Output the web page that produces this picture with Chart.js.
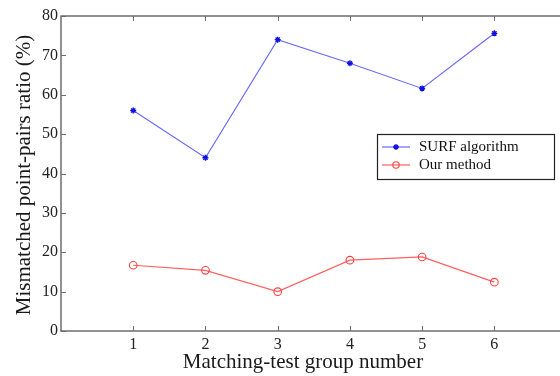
<!DOCTYPE html>
<html>
<head>
<meta charset="utf-8">
<script src="https://cdn.jsdelivr.net/npm/chart.js@4/dist/chart.umd.min.js"></script>
<style>
html,body{margin:0;padding:0;background:#fff;overflow:hidden;width:560px;height:376px;}
#wrap{position:absolute;left:0;top:0;width:572px;height:376px;}
</style>
</head>
<body>
<div id="wrap"><canvas id="c" width="572" height="376"></canvas></div>
<script>
const groups = [1, 2, 3, 4, 5, 6];
const surfValues = [56, 44, 74, 68, 61.6, 75.6];
const ourValues = [16.7, 15.4, 10, 18, 18.8, 12.4];
const yTicks = [0, 10, 20, 30, 40, 50, 60, 70, 80];
const xTitle = 'Matching-test group number';
const yTitle = 'Mismatched point-pairs ratio (%)';
const seriesNames = ['SURF algorithm', 'Our method'];

const AXIS = '#6e6e6e';
const SERIF = '"Liberation Serif", "Times New Roman", serif';

const framePlugin = {
  id: 'frame',
  afterDraw(chart) {
    const ctx = chart.ctx;
    const a = chart.chartArea;
    const xs = chart.scales.x, ys = chart.scales.y;
    ctx.save();
    ctx.strokeStyle = AXIS;
    ctx.lineWidth = 1.5;
    ctx.strokeRect(a.left, a.top, a.right - a.left, a.bottom - a.top);
    ctx.lineWidth = 1;
    ctx.beginPath();
    groups.forEach(g => {
      const px = Math.round(xs.getPixelForValue(g)) + 0.5;
      ctx.moveTo(px, a.bottom); ctx.lineTo(px, a.bottom - 5);
      ctx.moveTo(px, a.top); ctx.lineTo(px, a.top + 5);
    });
    yTicks.forEach(v => {
      const py = Math.round(ys.getPixelForValue(v)) + 0.5;
      ctx.moveTo(a.left, py); ctx.lineTo(a.left + 5, py);
      ctx.moveTo(a.right, py); ctx.lineTo(a.right - 5, py);
    });
    ctx.stroke();

    // axis titles
    ctx.fillStyle = '#1a1a1a';
    ctx.font = '21px ' + SERIF;
    ctx.textAlign = 'center';
    ctx.textBaseline = 'middle';
    ctx.fillText(xTitle, 303, 362);
    ctx.save();
    ctx.translate(24, 175);
    ctx.rotate(-Math.PI / 2);
    ctx.fillText(yTitle, 0, 0);
    ctx.restore();

    // legend
    const lx = 377, ly = 134, lw = 177, lh = 45;
    ctx.fillStyle = '#fff';
    ctx.fillRect(lx, ly, lw, lh);
    ctx.strokeStyle = '#222';
    ctx.lineWidth = 1.2;
    ctx.strokeRect(lx + 0.5, ly + 0.5, lw, lh);
    const rows = [ly + 13, ly + 31];
    chart.data.datasets.forEach((ds, i) => {
      const y = rows[i];
      ctx.strokeStyle = ds.borderColor;
      ctx.lineWidth = 1.2;
      ctx.beginPath();
      ctx.moveTo(lx + 5, y); ctx.lineTo(lx + 33, y);
      ctx.stroke();
      ctx.strokeStyle = ds.pointBorderColor;
      ctx.beginPath();
      if (ds.pointStyle === 'circle') {
        ctx.lineWidth = 1.1;
        ctx.arc(lx + 19, y, 3.2, 0, Math.PI * 2);
        ctx.stroke();
      } else {
        ctx.lineWidth = 1.3;
        ctx.moveTo(lx + 19 - 3, y); ctx.lineTo(lx + 19 + 3, y);
        ctx.moveTo(lx + 19, y - 3); ctx.lineTo(lx + 19, y + 3);
        ctx.moveTo(lx + 17, y - 2); ctx.lineTo(lx + 21, y + 2);
        ctx.moveTo(lx + 21, y - 2); ctx.lineTo(lx + 17, y + 2);
        ctx.stroke();
      }
      ctx.fillStyle = '#111';
      ctx.font = '15px ' + SERIF;
      ctx.textAlign = 'left';
      ctx.textBaseline = 'middle';
      ctx.fillText(ds.label, lx + 42, y);
    });
    ctx.restore();
  }
};

new Chart(document.getElementById('c'), {
  type: 'line',
  data: {
    datasets: [
      {
        label: seriesNames[0],
        data: groups.map((g, i) => ({x: g, y: surfValues[i]})),
        borderColor: '#6a6aff',
        borderWidth: 1.2,
        pointStyle: 'star',
        pointRadius: 3,
        pointBorderColor: '#1010e0',
        pointBackgroundColor: '#1010e0',
        pointBorderWidth: 1.4,
        tension: 0,
        fill: false
      },
      {
        label: seriesNames[1],
        data: groups.map((g, i) => ({x: g, y: ourValues[i]})),
        borderColor: '#ff6060',
        borderWidth: 1.2,
        pointStyle: 'circle',
        pointRadius: 3.8,
        pointBorderColor: '#ff4040',
        pointBackgroundColor: 'rgba(255,255,255,0)',
        pointBorderWidth: 1.1,
        tension: 0,
        fill: false
      }
    ]
  },
  options: {
    responsive: false,
    animation: false,
    devicePixelRatio: 1,
    layout: {padding: {top: 16, right: 4, left: 0, bottom: 0}},
    plugins: {legend: {display: false}, tooltip: {enabled: false}},
    scales: {
      x: {
        type: 'linear', min: 0, max: 7,
        grid: {display: false, drawTicks: false},
        border: {display: false},
        afterFit(s) { s.height = 45; },
        afterBuildTicks(s) { s.ticks = [0,1,2,3,4,5,6,7].map(v => ({value: v})); },
        ticks: {
          padding: 4,
          autoSkip: false,
          maxRotation: 0,
          color: '#222',
          font: {family: SERIF, size: 16},
          callback: v => (v >= 1 && v <= 6 ? String(v) : '')
        }
      },
      y: {
        min: 0, max: 80,
        grid: {display: false, drawTicks: false},
        border: {display: false},
        afterFit(s) { s.width = 61; },
        afterBuildTicks(s) { s.ticks = yTicks.map(v => ({value: v})); },
        ticks: {
          padding: 3,
          color: '#222',
          font: {family: SERIF, size: 16}
        }
      }
    }
  },
  plugins: [framePlugin]
});
</script>
</body>
</html>
